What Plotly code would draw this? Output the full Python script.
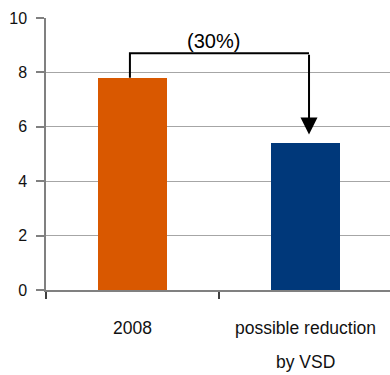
import plotly.graph_objects as go

# Chart data
categories = ["2008", "possible reduction by VSD"]
label_lines = [["2008"], ["possible reduction", "by VSD"]]
values = [7.8, 5.4]
bar_colors = ["#D95800", "#00387A"]
change_label = "(30%)"
y_ticks = [0, 2, 4, 6, 8, 10]

FONT = "Liberation Sans, Arial, sans-serif"
AXIS_GREY = "#808080"
GRID_GREY = "#A6A6A6"

fig = go.Figure(
    go.Bar(
        x=categories,
        y=values,
        width=0.4,
        marker=dict(color=bar_colors, line=dict(width=0)),
        hoverinfo="skip",
    )
)

# bracket: rise from the first bar, run across, drop with an arrow onto the second bar
bracket_y = 8.7
arrow_tip = 5.72
x_start, x_end = -0.015, 1.02
fig.add_shape(
    type="path",
    xref="x", yref="y",
    path=f"M {x_start},{values[0]} L {x_start},{bracket_y} L {x_end},{bracket_y}",
    line=dict(color="black", width=2),
)
fig.add_annotation(
    x=x_end, y=arrow_tip, ax=x_end, ay=bracket_y,
    xref="x", yref="y", axref="x", ayref="y",
    text="", showarrow=True,
    arrowhead=2, arrowsize=1.7, arrowwidth=2, arrowcolor="black",
    standoff=0, startstandoff=0,
)
fig.add_annotation(
    x=0.47, y=bracket_y, xref="x", yref="y",
    text=change_label, showarrow=False,
    yanchor="bottom", yshift=-1,
    font=dict(family=FONT, size=20, color="black"),
)

# category labels, drawn line by line for wide line spacing
for idx, lines in enumerate(label_lines):
    for i, line in enumerate(lines):
        fig.add_annotation(
            x=idx, y=0, xref="x", yref="paper",
            text=line, showarrow=False,
            yanchor="middle", yshift=-38 - 34 * i,
            font=dict(family=FONT, size=17.5, color="#111111"),
        )

fig.update_layout(
    width=390, height=375,
    margin=dict(l=46, r=0, t=17.5, b=85),
    paper_bgcolor="white", plot_bgcolor="white",
    showlegend=False,
    font=dict(family=FONT, color="#111111"),
    bargap=0,
)
fig.update_xaxes(
    type="category",
    range=[-0.5, 1.488],
    showticklabels=False,
    showgrid=False,
    showline=True, linecolor=AXIS_GREY, linewidth=2,
    ticks="outside", tickson="boundaries", ticklen=7, tickwidth=1.5, tickcolor="#404040",
    zeroline=False,
)
fig.update_yaxes(
    range=[0, 10],
    tickvals=y_ticks,
    showgrid=True, gridcolor=GRID_GREY, gridwidth=1,
    showline=True, linecolor=AXIS_GREY, linewidth=1.5,
    ticks="outside", ticklen=8, tickwidth=1.5, tickcolor=AXIS_GREY,
    tickfont=dict(family=FONT, size=16, color="#111111"),
    ticklabelstandoff=6,
    zeroline=False,
)

fig.write_html("out.html")
